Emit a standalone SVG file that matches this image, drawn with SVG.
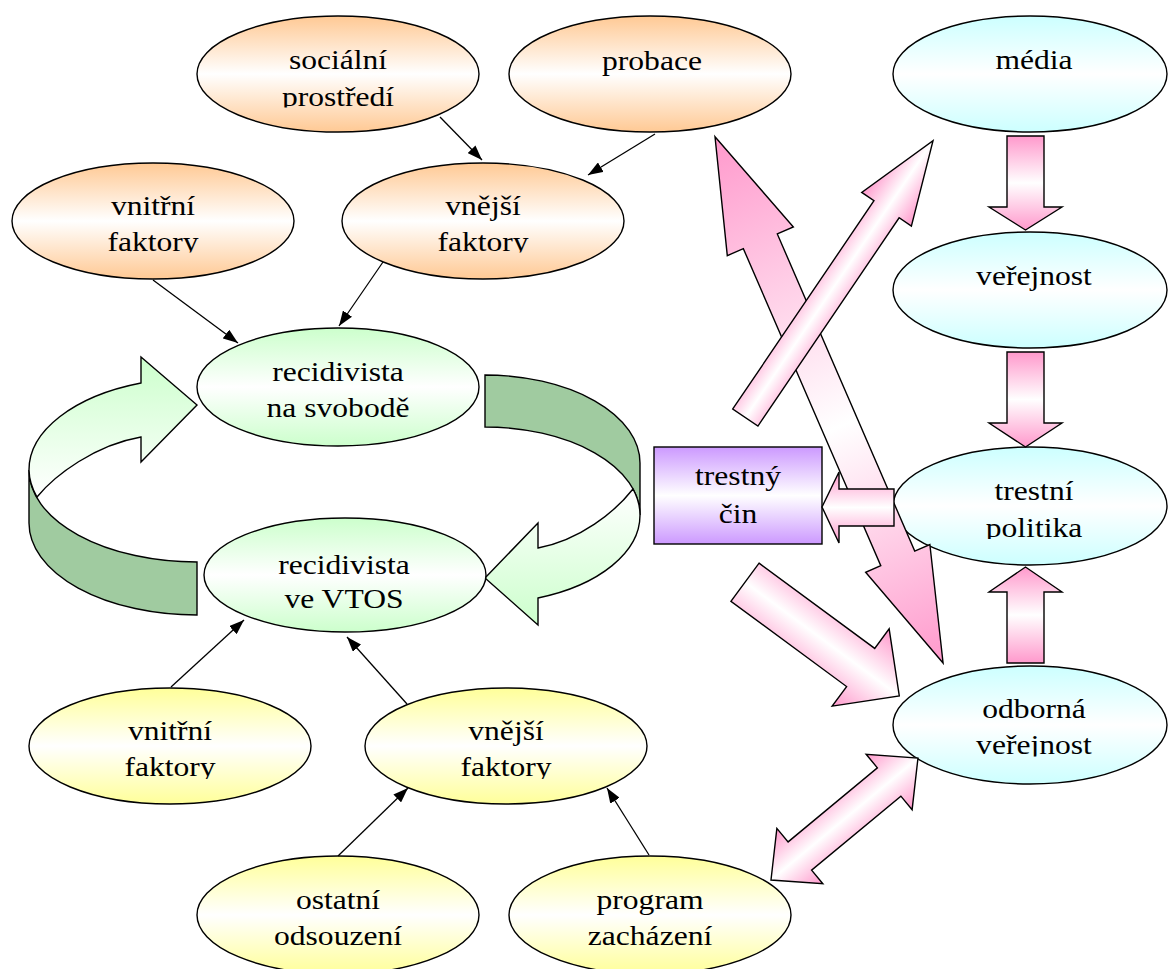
<svg xmlns="http://www.w3.org/2000/svg" width="1168" height="969" viewBox="0 0 1168 969">
<style>
.e{stroke:#000;stroke-width:1.4}
.lbl{font-family:"Liberation Serif","Times New Roman",serif;font-size:27px;fill:#000;text-anchor:middle}
.conn line{stroke:#000;stroke-width:1.3;marker-end:url(#ah)}
.blk{stroke:#000;stroke-width:1.4;stroke-linejoin:miter}
</style>
<defs>
<marker id="ah" markerUnits="userSpaceOnUse" markerWidth="15" markerHeight="11" refX="15" refY="5.5" orient="auto">
<path d="M0,0 L15,5.5 L0,11 Z" fill="#000"/>
</marker>
<clipPath id="c107" clipPathUnits="userSpaceOnUse"><rect x="-300" y="0" width="600" height="107.5"/></clipPath>
<clipPath id="c252" clipPathUnits="userSpaceOnUse"><rect x="-300" y="0" width="600" height="252.5"/></clipPath>
<clipPath id="c539" clipPathUnits="userSpaceOnUse"><rect x="-300" y="0" width="600" height="539"/></clipPath>
<clipPath id="c756" clipPathUnits="userSpaceOnUse"><rect x="-300" y="0" width="600" height="756.5"/></clipPath>
<clipPath id="c779" clipPathUnits="userSpaceOnUse"><rect x="-300" y="0" width="600" height="779"/></clipPath>
<linearGradient id="gOr" x1="0" y1="0" x2="0" y2="1"><stop offset="0" stop-color="#FFC994"/><stop offset="0.5" stop-color="#FFFFFF"/><stop offset="1" stop-color="#FFC994"/></linearGradient>
<linearGradient id="gGr" x1="0" y1="0" x2="0" y2="1"><stop offset="0" stop-color="#CCFFCC"/><stop offset="0.5" stop-color="#FFFFFF"/><stop offset="1" stop-color="#CCFFCC"/></linearGradient>
<linearGradient id="gCy" x1="0" y1="0" x2="0" y2="1"><stop offset="0" stop-color="#CCFFFF"/><stop offset="0.5" stop-color="#FFFFFF"/><stop offset="1" stop-color="#CCFFFF"/></linearGradient>
<linearGradient id="gYe" x1="0" y1="0" x2="0" y2="1"><stop offset="0" stop-color="#FFFF99"/><stop offset="0.5" stop-color="#FFFFFF"/><stop offset="1" stop-color="#FFFF99"/></linearGradient>
<linearGradient id="gPu" x1="0" y1="0" x2="0" y2="1"><stop offset="0" stop-color="#CC99FF"/><stop offset="0.5" stop-color="#FFFFFF"/><stop offset="1" stop-color="#CC99FF"/></linearGradient>
<linearGradient id="pkV" x1="0" y1="0" x2="0" y2="1"><stop offset="0" stop-color="#FF99CC"/><stop offset="0.5" stop-color="#FFFFFF"/><stop offset="1" stop-color="#FF99CC"/></linearGradient>
<linearGradient id="pkX" x1="0" y1="0" x2="1" y2="0"><stop offset="0" stop-color="#FF99CC"/><stop offset="0.55" stop-color="#FFFFFF"/><stop offset="1" stop-color="#FF99CC"/></linearGradient>
<linearGradient id="grL" x1="0" y1="0" x2="0" y2="1"><stop offset="0" stop-color="#CCFFCC"/><stop offset="1" stop-color="#FFFFFF"/></linearGradient>
<linearGradient id="grR" x1="0" y1="0" x2="0" y2="1"><stop offset="0" stop-color="#FFFFFF"/><stop offset="1" stop-color="#CCFFCC"/></linearGradient>
</defs>
<rect width="1168" height="969" fill="#fff"/>

<g id="cycle">
<path class="blk" fill="#A0CBA0" d="M29,470 A168,92 0 0 0 197,562 L197,615 A168,92 0 0 1 29,523 Z"/>
<path class="blk" fill="url(#grL)" d="M141,437 L141,462 L197,405 L141,357 L141,383 A168,92 0 0 0 29,470 A168,92 0 0 0 37,497 C55,475 95,445 141,437 Z"/>
<path class="blk" fill="#A0CBA0" d="M485,375 A155,88 0 0 1 640,463 L640,515 A155,88 0 0 0 485,427 Z"/>
<path class="blk" fill="url(#grR)" d="M538,548 L538,523 L485,578 L538,625 L538,598 A155,88 0 0 0 640,515 A155,88 0 0 0 633,489 C615,512 580,540 538,548 Z"/>
</g>

<g id="n-socialni"><ellipse class="e" cx="338" cy="74" rx="141" ry="58" fill="url(#gOr)"/>
<g transform="translate(338,0) scale(1.17,1)"><text class="lbl" x="0" y="69.5">sociální</text><text class="lbl" x="0" y="106" clip-path="url(#c107)">prostředí</text></g></g>
<g id="n-probace"><ellipse class="e" cx="650" cy="74" rx="141" ry="58" fill="url(#gOr)"/>
<g transform="translate(652,0) scale(1.17,1)"><text class="lbl" x="0" y="70">probace</text></g></g>
<g id="n-vnitrni1"><ellipse class="e" cx="153" cy="221" rx="141" ry="58" fill="url(#gOr)"/>
<g transform="translate(153,0) scale(1.17,1)"><text class="lbl" x="0" y="215">vnitřní</text><text class="lbl" x="0" y="251" clip-path="url(#c252)">faktory</text></g></g>
<g id="n-vnejsi1"><ellipse class="e" cx="483" cy="221" rx="141" ry="58" fill="url(#gOr)"/>
<g transform="translate(483,0) scale(1.17,1)"><text class="lbl" x="0" y="215">vnější</text><text class="lbl" x="0" y="251" clip-path="url(#c252)">faktory</text></g></g>
<g id="n-svoboda"><ellipse class="e" cx="338" cy="387" rx="141" ry="59" fill="url(#gGr)"/>
<g transform="translate(338,0) scale(1.17,1)"><text class="lbl" x="0" y="381">recidivista</text><text class="lbl" x="0" y="417">na svobodě</text></g></g>
<g id="n-vtos"><ellipse class="e" cx="345" cy="575" rx="141" ry="57" fill="url(#gGr)"/>
<g transform="translate(344,0) scale(1.17,1)"><text class="lbl" x="0" y="574">recidivista</text><text class="lbl" x="0" y="608">ve VTOS</text></g></g>
<g id="n-vnitrni2"><ellipse class="e" cx="170" cy="746" rx="141" ry="58" fill="url(#gYe)"/>
<g transform="translate(170,0) scale(1.17,1)"><text class="lbl" x="0" y="740">vnitřní</text><text class="lbl" x="0" y="776" clip-path="url(#c779)">faktory</text></g></g>
<g id="n-vnejsi2"><ellipse class="e" cx="506" cy="746" rx="141" ry="58" fill="url(#gYe)"/>
<g transform="translate(506,0) scale(1.17,1)"><text class="lbl" x="0" y="740">vnější</text><text class="lbl" x="0" y="776" clip-path="url(#c779)">faktory</text></g></g>
<g id="n-ostatni"><ellipse class="e" cx="338" cy="915" rx="141" ry="59" fill="url(#gYe)"/>
<g transform="translate(338,0) scale(1.17,1)"><text class="lbl" x="0" y="909">ostatní</text><text class="lbl" x="0" y="945">odsouzení</text></g></g>
<g id="n-program"><ellipse class="e" cx="650" cy="915" rx="141" ry="59" fill="url(#gYe)"/>
<g transform="translate(650,0) scale(1.17,1)"><text class="lbl" x="0" y="909">program</text><text class="lbl" x="0" y="945">zacházení</text></g></g>
<g id="n-media"><ellipse class="e" cx="1030" cy="74" rx="137" ry="58" fill="url(#gCy)"/>
<g transform="translate(1034,0) scale(1.17,1)"><text class="lbl" x="0" y="69">média</text></g></g>
<g id="n-verejnost"><ellipse class="e" cx="1030" cy="290" rx="137" ry="58" fill="url(#gCy)"/>
<g transform="translate(1034,0) scale(1.17,1)"><text class="lbl" x="0" y="285">veřejnost</text></g></g>
<g id="n-politika"><ellipse class="e" cx="1030" cy="506" rx="137" ry="59" fill="url(#gCy)"/>
<g transform="translate(1034,0) scale(1.17,1)"><text class="lbl" x="0" y="500">trestní</text><text class="lbl" x="0" y="537" clip-path="url(#c539)">politika</text></g></g>
<g id="n-odborna"><ellipse class="e" cx="1030" cy="725" rx="137" ry="59" fill="url(#gCy)"/>
<g transform="translate(1034,0) scale(1.17,1)"><text class="lbl" x="0" y="718">odborná</text><text class="lbl" x="0" y="754" clip-path="url(#c756)">veřejnost</text></g></g>
<g id="n-cin"><rect class="e" x="654" y="447" width="168" height="97" fill="url(#gPu)"/>
<g transform="translate(738,0) scale(1.17,1)"><text class="lbl" x="0" y="485">trestný</text><text class="lbl" x="0" y="523">čin</text></g></g>

<g id="connectors">
<g class="conn">
<line x1="440" y1="117" x2="482" y2="160"/>
<line x1="655" y1="134" x2="588" y2="175"/>
<line x1="153" y1="280" x2="238" y2="343"/>
<line x1="383" y1="262" x2="339" y2="326"/>
<line x1="171" y1="687" x2="244" y2="620"/>
<line x1="407" y1="704" x2="347" y2="637"/>
<line x1="338" y1="856" x2="408" y2="788"/>
<line x1="649" y1="855" x2="607" y2="788"/>
</g>
<g id="block-arrows">
<g transform="translate(715,136.7) rotate(66.57)"><polygon class="blk" fill="url(#pkX)" points="0,0 114,-36 114,-18.5 459.6,-18.5 459.6,-35 573.6,0 459.6,35 459.6,18.5 114,18.5 114,36"/></g>
<g transform="translate(745.35,417.5) rotate(-55.86)"><polygon class="blk" fill="url(#pkV)" points="0,-15.2 251.6,-15.2 251.6,-30 334.4,0 251.6,30 251.6,15.2 0,15.2"/></g>
<polygon class="blk" fill="url(#pkV)" points="894,489 839,489 839,472 822,507 839,543 839,526 894,526"/>
<g transform="translate(745,582.2) rotate(36.4)"><polygon class="blk" fill="url(#pkV)" points="0,-23.7 143.7,-23.7 143.7,-48 191.7,0 143.7,48 143.7,23.7 0,23.7"/></g>
<g transform="translate(771,880) rotate(-39.69)"><polygon class="blk" fill="url(#pkV)" points="0,0 37.5,-36 37.5,-18.4 153.5,-18.4 153.5,-36 191,0 153.5,36 153.5,18.4 37.5,18.4 37.5,36"/></g>
<polygon class="blk" fill="url(#pkV)" points="1007,136 1044,136 1044,207 1062,207 1025.5,230 989,207 1007,207"/>
<polygon class="blk" fill="url(#pkV)" points="1007,352 1044,352 1044,423 1062,423 1025.5,447 989,423 1007,423"/>
<polygon class="blk" fill="url(#pkV)" points="1007,663 1044,663 1044,592 1062,592 1025.5,567 989,592 1007,592"/>
</g>
</g>
</svg>
